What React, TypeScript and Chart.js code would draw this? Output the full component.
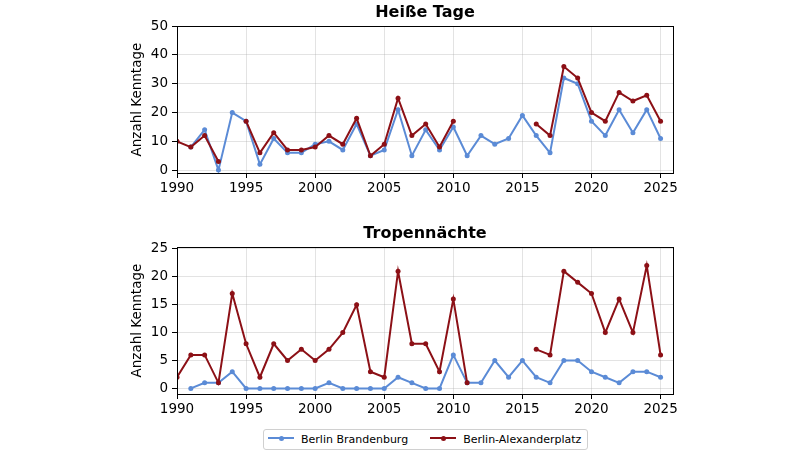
import { useEffect, useRef } from 'react';
import { Chart, registerables, type ChartOptions, type Plugin } from 'chart.js';

Chart.register(...registerables);
Chart.defaults.font.family = '"DejaVu Sans", sans-serif';
Chart.defaults.color = '#000';

const years = [
  1990, 1991, 1992, 1993, 1994, 1995, 1996, 1997, 1998, 1999,
  2000, 2001, 2002, 2003, 2004, 2005, 2006, 2007, 2008, 2009,
  2010, 2011, 2012, 2013, 2014, 2015, 2016, 2017, 2018, 2019,
  2020, 2021, 2022, 2023, 2024, 2025,
];

// Heiße Tage
const heisseBrandenburg = [
  null, 8, 14, 0, 20, 17, 2, 11, 6, 6,
  9, 10, 7, 16, 5, 7, 21, 5, 14, 7,
  15, 5, 12, 9, 11, 19, 12, 6, 32, 30,
  17, 12, 21, 13, 21, 11,
];
const heisseAlexanderplatz = [
  10, 8, 12, 3, null, 17, 6, 13, 7, 7,
  8, 12, 9, 18, 5, 9, 25, 12, 16, 8,
  17, null, null, null, null, null, 16, 12, 36, 32,
  20, 17, 27, 24, 26, 17,
];

// Tropennächte
const tropenBrandenburg = [
  null, 0, 1, 1, 3, 0, 0, 0, 0, 0,
  0, 1, 0, 0, 0, 0, 2, 1, 0, 0,
  6, 1, 1, 5, 2, 5, 2, 1, 5, 5,
  3, 2, 1, 3, 3, 2,
];
const tropenAlexanderplatz = [
  2, 6, 6, 1, 17, 8, 2, 8, 5, 7,
  5, 7, 10, 15, 3, 2, 21, 8, 8, 3,
  16, 1, null, null, null, null, 7, 6, 21, 19,
  17, 10, 16, 10, 22, 6,
];

const seriesNames = ['Berlin Brandenburg', 'Berlin-Alexanderplatz'];
const blue = '#5b8bd6';
const red = '#8c1016';

const frame: Plugin<'line'> = {
  id: 'frame',
  afterDatasetsDraw(chart) {
    const { ctx, chartArea: a } = chart;
    ctx.save();
    ctx.strokeStyle = '#000';
    ctx.lineWidth = 1;
    ctx.strokeRect(Math.round(a.left) + 0.5, Math.round(a.top) + 0.5, Math.round(a.right - a.left), Math.round(a.bottom - a.top));
    ctx.restore();
  },
};

function toPoints(values: (number | null)[]) {
  return years.map((x, i) => ({ x, y: values[i] }));
}

interface PanelProps {
  title: string;
  top: number;
  blueValues: (number | null)[];
  redValues: (number | null)[];
  yMin: number;
  yMax: number;
  yStep: number;
}

function Panel({ title, top, blueValues, redValues, yMin, yMax, yStep }: PanelProps) {
  const canvasRef = useRef<HTMLCanvasElement>(null);

  useEffect(() => {
    if (!canvasRef.current) return;
    const grid = { color: 'rgba(176,176,176,0.35)', tickColor: '#000', tickLength: 5 };
    const options: ChartOptions<'line'> = {
      responsive: false,
      animation: false,
      layout: { padding: { left: 125, right: 135, top: 0, bottom: 0 } },
      plugins: {
        legend: { display: false },
        tooltip: { enabled: false },
        title: {
          display: true,
          text: title,
          fullSize: false,
          color: '#000',
          font: { size: 16, weight: 'bold' },
          padding: { top: 3, bottom: 4 },
        },
      },
      scales: {
        x: {
          type: 'linear',
          min: 1990,
          max: 2025.9,
          grid,
          border: { display: false },
          ticks: {
            stepSize: 5,
            includeBounds: false,
            maxRotation: 0,
            padding: 2,
            font: { size: 13.5 },
            callback: (v) => String(v),
          },
          afterFit: (s) => {
            s.height = 27;
          },
        },
        y: {
          min: yMin,
          max: yMax,
          grid,
          border: { display: false },
          ticks: { stepSize: yStep, includeBounds: false, padding: 4, font: { size: 13.5 } },
          title: {
            display: true,
            text: 'Anzahl Kenntage',
            color: '#000',
            font: { size: 13.5 },
            padding: { top: 4, bottom: 0 },
          },
          afterFit: (s) => {
            s.width = 52;
          },
        },
      },
    };
    const chart = new Chart(canvasRef.current, {
      type: 'line',
      data: {
        datasets: [
          {
            label: seriesNames[0],
            data: toPoints(blueValues),
            borderColor: blue,
            backgroundColor: blue,
            borderWidth: 2,
            pointRadius: 2.5,
            pointBorderWidth: 0,
            spanGaps: false,
            order: 1,
          },
          {
            label: seriesNames[1],
            data: toPoints(redValues),
            borderColor: red,
            backgroundColor: red,
            borderWidth: 2,
            pointRadius: 2.5,
            pointBorderWidth: 0,
            spanGaps: false,
            order: 0,
          },
        ],
      },
      options,
      plugins: [frame],
    });
    return () => chart.destroy();
  }, [title, blueValues, redValues, yMin, yMax, yStep]);

  return (
    <canvas
      ref={canvasRef}
      width={808}
      height={200}
      style={{ position: 'absolute', left: 0, top, width: 808, height: 200, display: 'block' }}
    />
  );
}

function Swatch({ color }: { color: string }) {
  return (
    <span style={{ position: 'relative', display: 'inline-block', width: 26, height: 10 }}>
      <span style={{ position: 'absolute', left: 0, right: 0, top: 4, height: 2, background: color }} />
      <span
        style={{ position: 'absolute', left: 10.5, top: 2.5, width: 5, height: 5, borderRadius: '50%', background: color }}
      />
    </span>
  );
}

export default function App() {
  return (
    <div
      style={{
        position: 'absolute',
        left: 0,
        top: 0,
        width: 808,
        height: 454,
        background: '#fff',
        fontFamily: '"DejaVu Sans", sans-serif',
      }}
    >
      <Panel title="Heiße Tage" top={0} blueValues={heisseBrandenburg} redValues={heisseAlexanderplatz} yMin={-1} yMax={50} yStep={10} />
      <Panel title="Tropennächte" top={221} blueValues={tropenBrandenburg} redValues={tropenAlexanderplatz} yMin={-1} yMax={25.3} yStep={5} />
      <div
        style={{
          position: 'absolute',
          left: 263,
          top: 429,
          width: 323,
          height: 19,
          border: '1px solid #d0d0d0',
          borderRadius: 3,
          display: 'flex',
          alignItems: 'center',
          fontSize: 11,
          color: '#000',
          boxSizing: 'content-box',
        }}
      >
        <span style={{ marginLeft: 4 }}><Swatch color={blue} /></span>
        <span style={{ marginLeft: 7 }}>{seriesNames[0]}</span>
        <span style={{ marginLeft: 22 }}><Swatch color={red} /></span>
        <span style={{ marginLeft: 7 }}>{seriesNames[1]}</span>
      </div>
    </div>
  );
}
